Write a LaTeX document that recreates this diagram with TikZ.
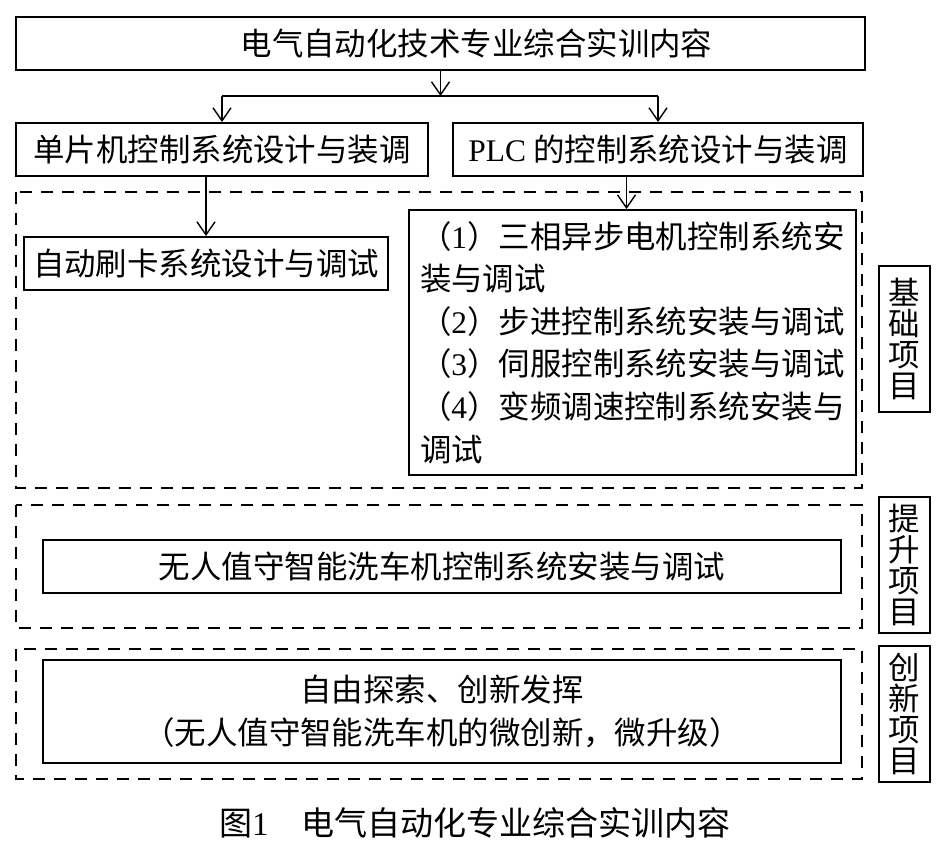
\documentclass[tikz,border=0pt]{standalone}
\usepackage{fontspec}
\setmainfont{Noto Sans CJK SC}
\newfontfamily\latfont{Liberation Serif}
\usetikzlibrary{arrows.meta}
\tikzset{>={Straight Barb[length=2.6mm,width=3.6mm]}}
\tikzstyle{every node}=[align=center, font=\fontsize{17.9pt}{24.2pt}\selectfont]
\tikzstyle{box}=[draw, line width=1.1pt, inner sep=0pt, minimum height=1.06cm]
\tikzstyle{tag}=[box, minimum width=1.02cm, font=\fontsize{17.9pt}{17.6pt}\selectfont]
\tikzstyle{frame}=[line width=1pt, dash pattern=on 0.24cm off 0.18cm]
\tikzstyle{link}=[line width=0.8pt]

\begin{document}
\begin{tikzpicture}[x=0.02cm, y=-0.02cm]
\useasboundingbox[fill=white] (0,0) rectangle (945,856);

\node[box, minimum width=16.98cm] (top) at (440.5,43.5) {\hspace*{1.44cm}电气自动化技术专业综合实训内容};
\coordinate (split) at (440,96);
\node[box, minimum width=8.24cm] (mcu) at (222,149.5) {单片机控制系统设计与装调};
\node[box, minimum width=8.2cm] (plc) at (658,149.5) {{\latfont PLC} 的控制系统设计与装调};
\node[box, minimum width=7.28cm] (card) at (206,263.5) {自动刷卡系统设计与调试};
\node[box, minimum width=8.94cm, minimum height=5.3cm, text width=8.5cm, align=left] (list) at (632.5,342.5)
  {（{\latfont 1}）三相异步电机控制系统安\\装与调试\\（{\latfont 2}）步进控制系统安装与调试\\（{\latfont 3}）伺服控制系统安装与调试\\（{\latfont 4}）变频调速控制系统安装与\\调试};
\node[tag, minimum height=2.92cm] (base) at (904.5,339) {基\\础\\项\\目};

\node[box, minimum width=15.96cm] (wash) at (442,566.5) {无人值守智能洗车机控制系统安装与调试};
\node[tag, minimum height=2.72cm] (lift) at (904.5,565) {提\\升\\项\\目};

\node[box, minimum width=15.96cm, minimum height=2.06cm] (free) at (442,711.5) {自由探索、创新发挥\\（无人值守智能洗车机的微创新，微升级）};
\node[tag, minimum height=2.72cm] (innov) at (904.5,714) {创\\新\\项\\目};

\node[font=\fontsize{18.8pt}{24pt}\selectfont] (caption) at (475,823) {图{\latfont 1}\quad 电气自动化专业综合实训内容};

\draw[frame] (16,192) rectangle (862,488);
\draw[frame] (16,505) rectangle (862,628);
\draw[frame] (16,649) rectangle (862,779);

\draw[link,->] (top.south) -- (top.south |- split);
\draw[link] (mcu.north |- split) -- (plc.north |- split);
\draw[link,->] (mcu.north |- split) -- (mcu.north);
\draw[link,->] (plc.north |- split) -- (plc.north);
\draw[link,->] (card.north |- mcu.south) -- (card.north);
\draw[link,->] ([xshift=-0.12cm]list.north |- plc.south) -- ([xshift=-0.12cm]list.north);
\end{tikzpicture}
\end{document}
